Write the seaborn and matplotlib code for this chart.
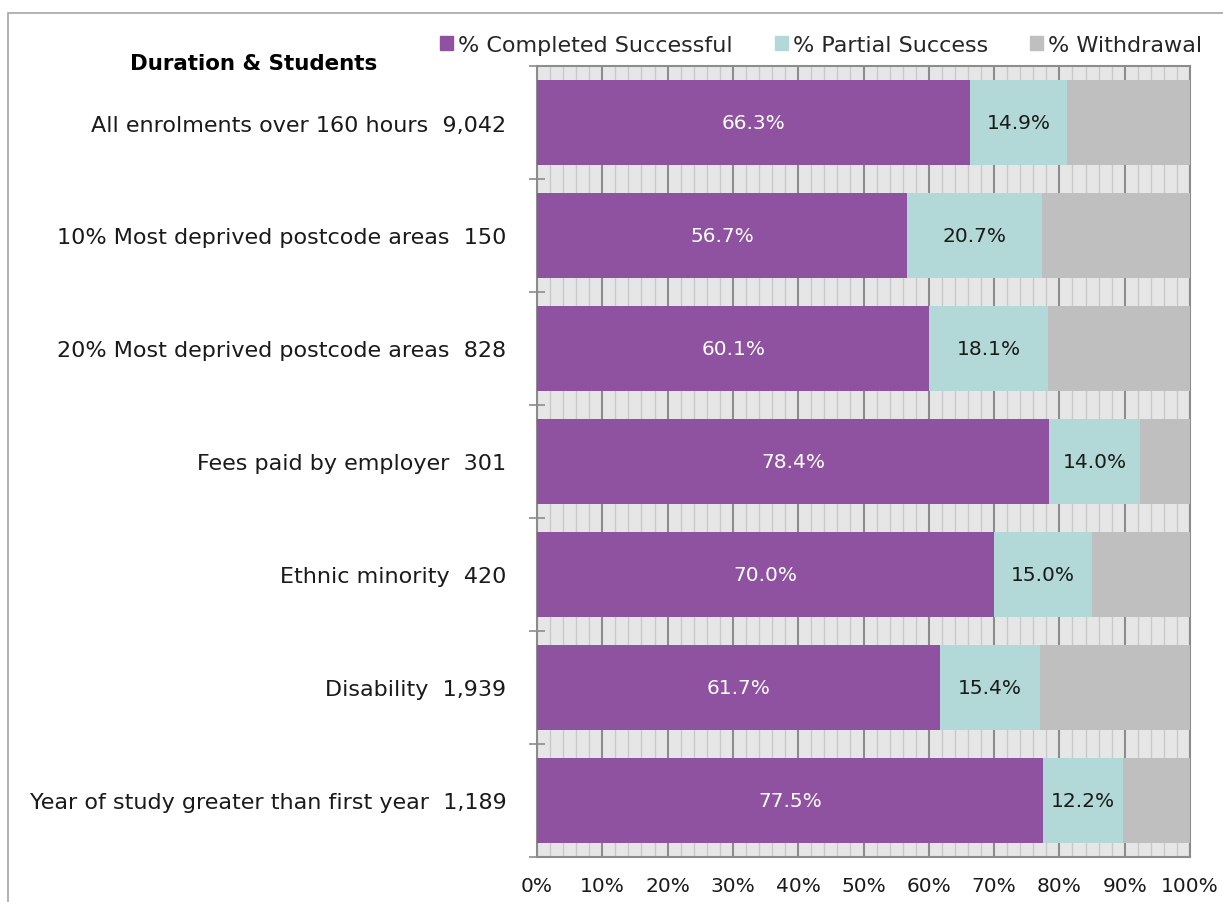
import matplotlib
matplotlib.use("Agg")
import matplotlib.pyplot as plt
import matplotlib.patches as mpatches
from matplotlib.ticker import MultipleLocator, FuncFormatter
import pandas as pd
import seaborn as sns

groups = [
    "All enrolments over 160 hours",
    "10% Most deprived postcode areas",
    "20% Most deprived postcode areas",
    "Fees paid by employer",
    "Ethnic minority",
    "Disability",
    "Year of study greater than first year",
]
students = ["9,042", "150", "828", "301", "420", "1,939", "1,189"]
completed = [66.3, 56.7, 60.1, 78.4, 70.0, 61.7, 77.5]
partial = [14.9, 20.7, 18.1, 14.0, 15.0, 15.4, 12.2]
withdrawal = [18.8, 22.6, 21.8, 7.6, 15.0, 22.9, 10.3]

series_names = ["% Completed Successful", "% Partial Success", "% Withdrawal"]
colors = ["#8e52a0", "#b2d8d7", "#bfbfbf"]

labels = [f"{g}  {n}" for g, n in zip(groups, students)]
df = pd.DataFrame({
    "label": labels,
    "completed": completed,
    "partial": partial,
    "withdrawal": withdrawal,
})
df["to_partial"] = df["completed"] + df["partial"]
df["to_withdrawal"] = df["to_partial"] + df["withdrawal"]

sns.set_style("white")
plt.rcParams["font.family"] = ["DejaVu Sans"]

fig = plt.figure(figsize=(12.23, 9.03), dpi=100)
ax = fig.add_axes([537 / 1223, 1 - 858 / 903, (1190 - 537) / 1223, (858 - 67) / 903])
ax.set_facecolor("#e6e6e6")

# stacked look: draw cumulative totals from the back
for col, color in zip(["to_withdrawal", "to_partial", "completed"], colors[::-1]):
    sns.barplot(data=df, x=col, y="label", color=color, saturation=1,
                width=0.75, linewidth=0, ax=ax, zorder=3)

for i, row in df.iterrows():
    ax.text(row["completed"] / 2, i, f"{row['completed']:.1f}%",
            ha="center", va="center", color="white", fontsize=14.5, zorder=5)
    ax.text(row["completed"] + row["partial"] / 2, i, f"{row['partial']:.1f}%",
            ha="center", va="center", color="#1a1a1a", fontsize=14.5, zorder=5)

ax.set_xlim(0, 100)
ax.set_ylim(len(df) - 0.5, -0.5)
ax.xaxis.set_major_locator(MultipleLocator(10))
ax.xaxis.set_minor_locator(MultipleLocator(2))
ax.xaxis.set_major_formatter(FuncFormatter(lambda v, p: f"{v:.0f}%"))
ax.grid(axis="x", which="minor", color="#c9c9c9", linewidth=1, zorder=1)
ax.grid(axis="x", which="major", color="#8c8c8c", linewidth=1.5, zorder=2)
ax.set_axisbelow(True)

ax.set_yticks(range(len(df)))
ax.set_yticks([i - 0.5 for i in range(len(df) + 1)], minor=True)
ax.tick_params(axis="y", which="major", length=0, pad=22, labelsize=16,
               labelcolor="#1a1a1a")
ax.tick_params(axis="y", which="minor", direction="inout", length=12,
               width=1.2, color="#8c8c8c", left=True)
ax.tick_params(axis="x", which="both", length=0, pad=14, labelsize=14.5,
               labelcolor="#1a1a1a")
ax.set_xlabel("")
ax.set_ylabel("")

for side in ["left", "right", "top", "bottom"]:
    ax.spines[side].set_visible(True)
    ax.spines[side].set_color("#8c8c8c")
    ax.spines[side].set_linewidth(1.5)

handles = [mpatches.Patch(color=c) for c in colors]
fig.legend(handles, series_names, loc="center", ncol=3,
           bbox_to_anchor=(821 / 1223, 1 - 46 / 903), frameon=False,
           fontsize=16, handlelength=0.6, handleheight=0.6,
           handletextpad=0.2, columnspacing=1.9)

fig.text(130 / 1223, 1 - 64 / 903, "Duration & Students", ha="left",
         va="center", fontsize=15.4, fontweight="bold", color="black")

fig.patches.append(mpatches.Rectangle((8 / 1223, -0.1), 1.2, 1 - 14 / 903 + 0.1,
                                      transform=fig.transFigure, fill=False,
                                      edgecolor="#a6a6a6", linewidth=1.2))

fig.savefig("out.png", dpi=100)
